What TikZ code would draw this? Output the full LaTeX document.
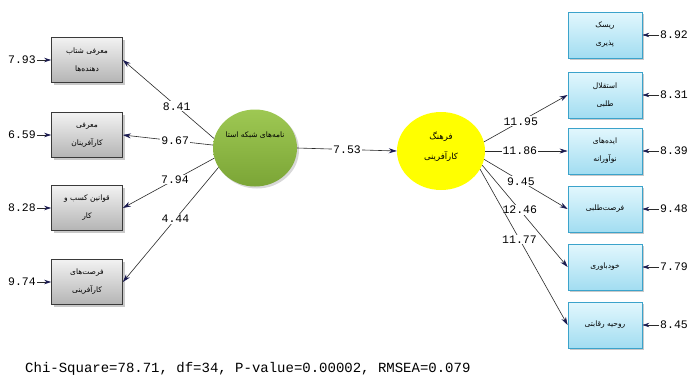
\documentclass[tikz,border=0pt]{standalone}
\usepackage{fontspec}
\usetikzlibrary{arrows.meta,shapes.geometric,shadows}
\TeXXeTstate=1
\newfontfamily\arabicfont[Script=Arabic]{DejaVu Sans}
\newfontfamily\monofont{Liberation Mono}
\definecolor{boxgrayT}{HTML}{F2F2F2}
\definecolor{boxgrayB}{HTML}{B4B4B4}
\definecolor{boxgrayD}{HTML}{3A3A3A}
\definecolor{boxcyanT}{HTML}{E2F7FD}
\definecolor{boxcyanB}{HTML}{A2DDF1}
\definecolor{boxcyanD}{HTML}{3BA3CB}
\definecolor{greenT}{HTML}{9EC853}
\definecolor{greenB}{HTML}{7BA536}
\definecolor{yel}{HTML}{FFFF00}
\definecolor{tipblue}{HTML}{1A1A50}
\definecolor{linec}{HTML}{2A2A2A}
\tikzset{
  x=1pt, y=-1pt,
  pfont/.style={font=\arabicfont\fontsize{7.5}{18}\selectfont},
  leftbox/.style={draw=boxgrayD, line width=0.8pt, minimum width=71pt, minimum height=45pt,
    top color=boxgrayT, bottom color=boxgrayB, align=center, pfont,
    drop shadow={shadow xshift=2pt, shadow yshift=-2pt, fill=gray!70, opacity=0.6}},
  rightbox/.style={draw=boxcyanD, line width=0.8pt, minimum width=74pt, minimum height=46pt,
    top color=boxcyanT, bottom color=boxcyanB, align=center, pfont,
    drop shadow={shadow xshift=2pt, shadow yshift=-2pt, fill=gray!70, opacity=0.6}},
  latgreen/.style={ellipse, minimum width=84pt, minimum height=77pt, inner sep=0pt,
    top color=greenT, bottom color=greenB,
    drop shadow={shadow xshift=2pt, shadow yshift=-2pt, fill=gray!60, opacity=0.5}},
  latyellow/.style={ellipse, minimum width=88pt, minimum height=78pt, inner sep=0pt, fill=yel},
  path/.style={draw=linec, line width=0.6pt, -{Stealth[length=8pt,width=5pt,color=tipblue]}},
  errarrow/.style={draw=linec, line width=0.6pt, -{Stealth[length=7pt,width=4.5pt,color=tipblue]}},
  coef/.style={fill=white, inner sep=1pt, font=\monofont\fontsize{11.5}{12}\selectfont},
  errlab/.style={inner sep=1pt, font=\monofont\fontsize{11.5}{12}\selectfont},
}
\begin{document}
\begin{tikzpicture}
\useasboundingbox (0,0) rectangle (692,378);
\fill[white] (0,0) rectangle (692,378);

% left boxes
\node[leftbox] (L1) at (87,60) {\beginR معرفی شتاب\endR\\\beginR دهنده‌ها\endR};
\node[leftbox] (L2) at (87,135) {\beginR معرفی\endR\\\beginR کارآفرینان\endR};
\node[leftbox] (L3) at (87,208) {\beginR قوانین کسب و\endR\\\beginR کار\endR};
\node[leftbox] (L4) at (87,282) {\beginR فرصت‌های\endR\\\beginR کارآفرینی\endR};

% right boxes
\node[rightbox] (R1) at (605,35) {\beginR ریسک\endR\\\beginR پذیری\endR};
\node[rightbox] (R2) at (605,95) {\beginR استقلال\endR\\\beginR طلبی\endR};
\node[rightbox] (R3) at (605,151) {\beginR ایده‌های\endR\\\beginR نوآورانه\endR};
\node[rightbox] (R4) at (605,209) {\beginR فرصت‌طلبی\endR};
\node[rightbox] (R5) at (605,267) {\beginR خودباوری\endR};
\node[rightbox] (R6) at (605,325) {\beginR روحیه رقابتی\endR};

% latent variables
\node[latgreen] (G) at (255,148) {};
\node[pfont, anchor=center] (Gt) at (255,135) {\beginR نامه‌های شبکه استا\endR};
\node[latyellow] (Y) at (441,151) {};
\node[font=\arabicfont\fontsize{8.5}{20}\selectfont, align=center] (Yt) at (441,147) {\beginR فرهنگ\endR\\\beginR کارآفرینی\endR};

% error labels left
\node[errlab] (eL1) at (22,60) {7.93};
\node[errlab] (eL2) at (22,135) {6.59};
\node[errlab] (eL3) at (22,208) {8.28};
\node[errlab] (eL4) at (22,282) {9.74};
\foreach \i in {1,...,4} {\draw[errarrow] (eL\i) -- (L\i);}

% error labels right
\node[errlab] (eR1) at (674,35) {8.92};
\node[errlab] (eR2) at (674,95) {8.31};
\node[errlab] (eR3) at (674,151) {8.39};
\node[errlab] (eR4) at (674,209) {9.48};
\node[errlab] (eR5) at (674,267) {7.79};
\node[errlab] (eR6) at (674,325) {8.45};
\foreach \i in {1,...,6} {\draw[errarrow] (eR\i) -- (R\i);}

% paths from green
\draw[path] (G.167) -- node[coef, pos=0.41] {8.41} (L1.east);
\draw[path] (G.176) -- node[coef, pos=0.42] {9.67} (L2.east);
\draw[path] (G.194) -- node[coef, pos=0.43] {7.94} (L3.east);
\draw[path] (G.208) -- node[coef, pos=0.45] {4.44} (L4.east);

% structural path
\draw[path] (G.east) -- node[coef, pos=0.5] {7.53} (Y.west);

% paths from yellow
\draw[path] (Y.12) -- node[coef, pos=0.44] {11.95} (R2.west);
\draw[path] (Y.east) -- node[coef, pos=0.42] {11.86} (R3.west);
\draw[path] (Y.-11) -- node[coef, pos=0.44] {9.45} (R4.west);
\draw[path] (Y.-19) -- node[coef, pos=0.44] {12.46} (R5.west);
\draw[path] (Y.-25) -- node[coef, pos=0.45] {11.77} (R6.west);

% fit statistics
\node[anchor=west, inner sep=0pt, font=\monofont\fontsize{14}{15}\selectfont] (fit) at (25,369) {Chi-Square=78.71, df=34, P-value=0.00002, RMSEA=0.079};
\end{tikzpicture}
\end{document}
